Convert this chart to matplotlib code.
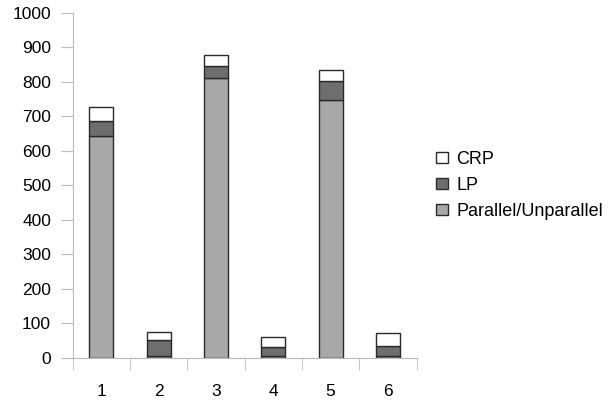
import numpy as np
import matplotlib.pyplot as plt

# dados
categorias = ['1', '2', '3', '4', '5', '6']
parallel = [642, 5, 812, 5, 748, 5]
lp = [46, 46, 35, 27, 55, 30]
crp = [39, 25, 30, 30, 32, 38]

plt.rcParams['font.family'] = ['Liberation Sans', 'DejaVu Sans']

fig = plt.figure(figsize=(6.1, 4.04), dpi=100)
ax = fig.add_axes([0.119, 0.114, 0.564, 0.854])

x = np.arange(len(categorias))
base2 = np.array(parallel) + np.array(lp)
kw = dict(width=0.42, edgecolor='#2a2a2a', linewidth=1.0)
b1 = ax.bar(x, parallel, color='#a8a8a8', label='Parallel/Unparallel', **kw)
b2 = ax.bar(x, lp, bottom=parallel, color='#6e6e6e', label='LP', **kw)
b3 = ax.bar(x, crp, bottom=base2, color='white', label='CRP', **kw)

ax.set_xlim(-0.5, 5.5)
ax.set_ylim(0, 1000)
ax.set_yticks(range(0, 1001, 100))
ax.set_xticks(x)
ax.set_xticklabels(categorias)
ax.set_xticks(np.arange(-0.5, 6, 1), minor=True)
ax.tick_params(axis='x', which='major', length=0, pad=19, labelsize=12.5)
ax.tick_params(axis='x', which='minor', length=8.5, color='#bbbbbb')
ax.tick_params(axis='y', length=8.5, color='#bbbbbb', labelsize=12.5, pad=7)

for s in ['top', 'right']:
    ax.spines[s].set_visible(False)
for s in ['left', 'bottom']:
    ax.spines[s].set_color('#bbbbbb')

leg = ax.legend(handles=[b3, b2, b1], frameon=False, fontsize=13,
                loc='center left', bbox_to_anchor=(1.01, 0.5),
                handlelength=0.62, handleheight=0.62, handletextpad=0.5,
                labelspacing=0.5)

plt.savefig('out.png', dpi=100)
